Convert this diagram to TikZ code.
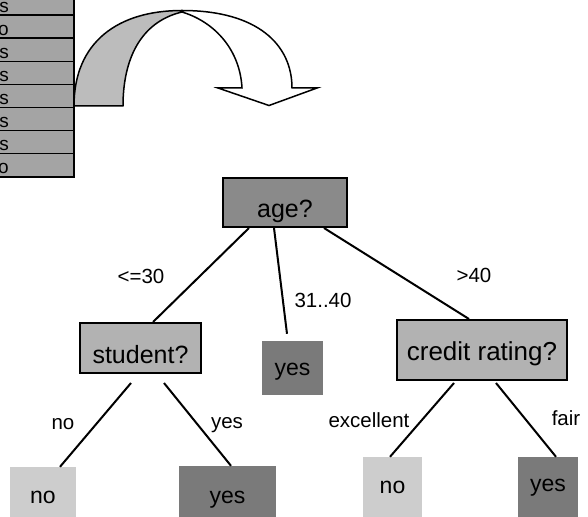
\documentclass[tikz,border=0pt]{standalone}
\usepackage{fontspec}
\setmainfont{Liberation Sans}
\definecolor{tablegray}{HTML}{A4A4A4}
\definecolor{ribbongray}{HTML}{BCBCBC}
\definecolor{rootgray}{HTML}{8A8A8A}
\definecolor{testgray}{HTML}{B2B2B2}
\definecolor{yesgray}{HTML}{7A7A7A}
\definecolor{nogray}{HTML}{CDCDCD}
\tikzset{
  rowcell/.style={rectangle, draw=black, line width=1.4pt, fill=tablegray,
    minimum width=82pt, minimum height=23.1pt, inner sep=0pt},
  rowtext/.style={anchor=base east, inner sep=0pt,
    font=\fontsize{19}{22}\selectfont},
  testbox/.style={rectangle, draw=black, line width=2pt, inner sep=0pt,
    text depth=0pt, font=\fontsize{25}{30}\selectfont},
  leafbox/.style={rectangle, inner sep=0pt, text depth=0pt,
    font=\fontsize{23}{28}\selectfont},
  branch/.style={draw=black, line width=2pt},
  branchlabel/.style={anchor=base, inner sep=0pt,
    font=\fontsize{20.5}{24}\selectfont},
}
\begin{document}
\begin{tikzpicture}[x=1pt,y=-1pt]
\useasboundingbox (0,0) rectangle (588,516);

% training table, cut off at the left edge
\foreach \t [count=\i] in {yes,no,yes,yes,yes,yes,yes,no}{
  \node[rowcell] (row\i) at (33,{-8+23.1*(\i-0.5)}) {};
  \node[rowtext] (rowt\i) at (9,{0.5+23.1*(\i-0.5)}) {\t};
}

% twisted ribbon arrow: shaded back side
\filldraw[fill=ribbongray, draw=black, line width=1.5pt, line join=round]
  (74,106) .. controls (74,42) and (118,10.5) .. (182,10.5)
  -- (182,12) .. controls (140,22) and (123,60) .. (123,106) -- cycle;
% front side with the head
\filldraw[fill=white, draw=black, line width=1.5pt, line join=miter]
  (182,10.5) .. controls (258,10.5) and (292,45) .. (292,88)
  -- (317,88) -- (269,105.5) -- (218,88) -- (242,88)
  .. controls (240,50) and (215,22) .. (182,12) -- cycle;

% decision tree
\node[testbox, fill=rootgray, minimum width=124pt, minimum height=49pt,
      text height=29pt] (age) at (285,202.5) {age?};
\node[testbox, fill=testgray, minimum width=121pt, minimum height=50pt,
      text height=30pt] (student) at (140.5,348) {student?};
\node[leafbox, fill=yesgray, minimum width=61pt, minimum height=54pt,
      text height=14pt] (midyes) at (292.5,368) {yes};
\node[testbox, fill=testgray, minimum width=170pt, minimum height=60pt,
      text height=20pt, font=\fontsize{26}{31}\selectfont] (credit) at (482,350) {credit rating?};
\node[leafbox, fill=nogray, minimum width=66pt, minimum height=54pt,
      text height=18pt] (noA) at (43,494) {no};
\node[leafbox, fill=yesgray, minimum width=97pt, minimum height=55pt,
      text height=19pt] (yesA) at (227.5,493.5) {yes};
\node[leafbox, fill=nogray, minimum width=59pt, minimum height=64pt,
      text height=8pt] (noB) at (392.5,489) {no};
\node[leafbox, fill=yesgray, minimum width=60pt, minimum height=64pt,
      text height=4pt] (yesB) at (548,489) {yes};

% branches
\draw[branch] ([xshift=-36pt]age.south) -- ([xshift=12.5pt]student.north);
\draw[branch] ([xshift=-11pt]age.south) -- ([xshift=-5.5pt,yshift=7pt]midyes.north);
\draw[branch] ([xshift=39pt]age.south) -- ([xshift=-13pt]credit.north);
\draw[branch] ([xshift=-9.5pt,yshift=-9pt]student.south) -- ([xshift=17pt]noA.north);
\draw[branch] ([xshift=23.5pt,yshift=-9pt]student.south) -- ([xshift=3.5pt]yesA.north);
\draw[branch] ([xshift=-28pt,yshift=-2pt]credit.south) -- ([xshift=-2.5pt]noB.north);
\draw[branch] ([xshift=14pt,yshift=-2pt]credit.south) -- ([xshift=8pt]yesB.north);

% branch labels
\node[branchlabel] (lblA) at (141,283) {<=30};
\node[branchlabel] (lblB) at (323,307) {31..40};
\node[branchlabel] (lblC) at (474,282) {>40};
\node[branchlabel] (lblD) at (63,429) {no};
\node[branchlabel] (lblE) at (227,428) {yes};
\node[branchlabel] (lblF) at (369,427) {excellent};
\node[branchlabel] (lblG) at (566,425) {fair};
\end{tikzpicture}
\end{document}
